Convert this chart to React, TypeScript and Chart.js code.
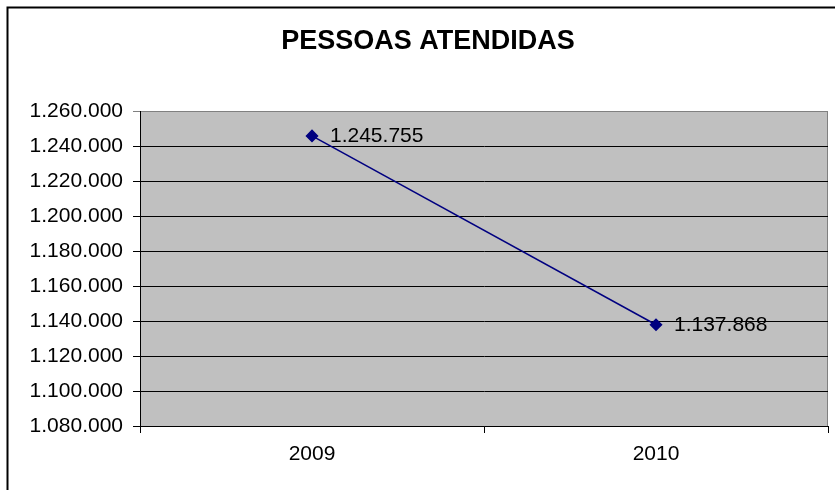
import React, { useEffect, useRef } from "react";
import { Chart, registerables } from "chart.js";

Chart.register(...registerables);

const TITLE = "PESSOAS ATENDIDAS";
const categories = ["2009", "2010"];
const values = [1245755, 1137868];
const yMin = 1080000;
const yMax = 1260000;
const yStep = 20000;

const FONT = "'Liberation Sans', Arial, sans-serif";

const fmt = (v: number) =>
  Math.round(v)
    .toString()
    .replace(/\B(?=(\d{3})+(?!\d))/g, ".");

const framePlugin = {
  id: "frame",
  beforeDraw(chart: any) {
    const { ctx, chartArea: a } = chart;
    ctx.save();
    ctx.fillStyle = "#ffffff";
    ctx.fillRect(0, 0, chart.width, chart.height);
    ctx.fillStyle = "#C0C0C0";
    ctx.fillRect(a.left, a.top, a.right - a.left, a.bottom - a.top);
    ctx.strokeStyle = "#808080";
    ctx.lineWidth = 1;
    ctx.beginPath();
    ctx.moveTo(a.left, a.top + 0.5);
    ctx.lineTo(a.right - 0.5, a.top + 0.5);
    ctx.lineTo(a.right - 0.5, a.bottom);
    ctx.stroke();
    ctx.strokeStyle = "#000000";
    ctx.lineWidth = 2;
    ctx.strokeRect(7.5, 7.5, 1000, 1000);
    ctx.restore();
  },
  afterDatasetsDraw(chart: any) {
    const { ctx } = chart;
    const meta = chart.getDatasetMeta(0);
    ctx.save();
    ctx.font = `21px ${FONT}`;
    ctx.fillStyle = "#000000";
    ctx.textAlign = "left";
    ctx.textBaseline = "middle";
    meta.data.forEach((pt: any, i: number) => {
      ctx.fillText(fmt(values[i]), pt.x + 18, pt.y);
    });
    ctx.restore();
  },
};

export default function App() {
  const ref = useRef<HTMLCanvasElement | null>(null);
  useEffect(() => {
    if (!ref.current) return;
    const chart = new Chart(ref.current, {
      type: "line",
      data: {
        labels: categories,
        datasets: [
          {
            data: values,
            borderColor: "#000080",
            backgroundColor: "#000080",
            borderWidth: 1.5,
            pointStyle: "rectRot",
            pointRadius: 5.5,
            pointBackgroundColor: "#000080",
            pointBorderColor: "#000080",
            tension: 0,
          },
        ],
      },
      options: {
        responsive: false,
        animation: false,
        devicePixelRatio: 1,
        layout: { padding: { top: 0, right: 5, bottom: 0, left: 26 } },
        plugins: {
          legend: { display: false },
          tooltip: { enabled: false },
          title: {
            display: true,
            text: TITLE,
            color: "#000000",
            font: { family: FONT, size: 27, weight: "bold" },
            padding: { top: 25, bottom: 53.6 },
          },
        },
        scales: {
          x: {
            type: "category",
            offset: true,
            afterFit: (s: any) => {
              s.height = 64;
            },
            grid: {
              offset: true,
              drawOnChartArea: false,
              drawTicks: true,
              tickLength: 7,
              color: "#000000",
            },
            border: { display: true, color: "#000000", width: 1 },
            ticks: {
              color: "#000000",
              font: { family: FONT, size: 21 },
              padding: 9,
              maxRotation: 0,
            },
          },
          y: {
            min: yMin,
            max: yMax,
            afterFit: (s: any) => {
              s.width = 114;
            },
            grid: {
              color: (c: any) => (c.tick && c.tick.value === yMax ? "#808080" : "#000000"),
              drawTicks: true,
              tickLength: 7,
              lineWidth: 1,
            },
            border: { display: true, color: "#000000", width: 1 },
            ticks: {
              stepSize: yStep,
              color: "#000000",
              font: { family: FONT, size: 21 },
              padding: 10,
              callback: (v: any) => fmt(Number(v)),
            },
          },
        },
      },
      plugins: [framePlugin],
    } as any);
    return () => chart.destroy();
  }, []);
  return (
    <div style={{ position: "fixed", left: 0, top: 0, width: 835, height: 490, background: "#fff" }}>
      <canvas ref={ref} width={835} height={490} style={{ display: "block", width: 835, height: 490 }} />
    </div>
  );
}
